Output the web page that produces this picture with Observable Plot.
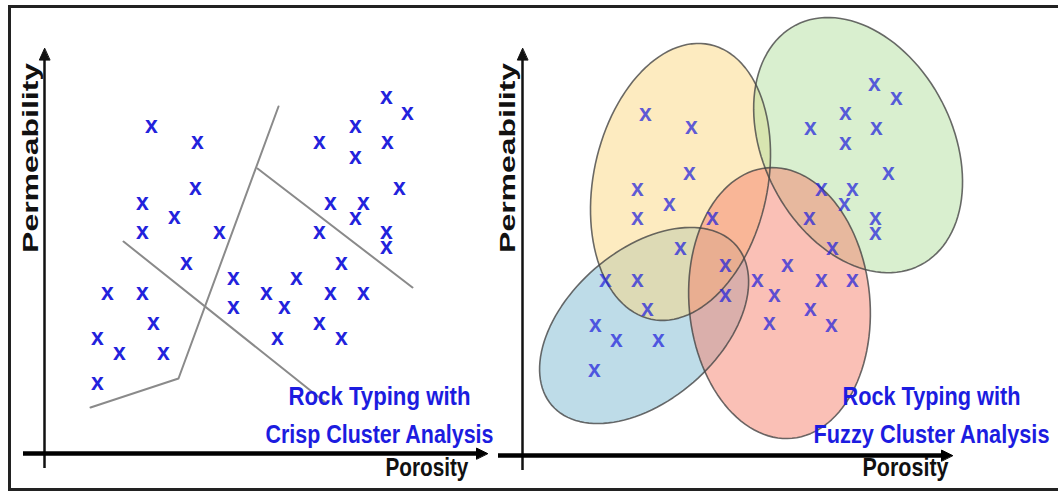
<!DOCTYPE html>
<html>
<head>
<meta charset="utf-8">
<script src="https://cdn.jsdelivr.net/npm/d3@7"></script>
<script src="https://cdn.jsdelivr.net/npm/@observablehq/plot@0.6"></script>
<style>
  html, body { margin: 0; padding: 0; background: #fff; overflow: hidden; }
  #wrap { position: relative; width: 1058px; height: 492px; overflow: hidden; background: #fff; }
  #wrap svg { position: absolute; top: 0; }
  #frame { position: absolute; left: 8px; top: 5px; width: 1060px; height: 486px;
           border: 3px solid #222; box-sizing: border-box; pointer-events: none; }
</style>
</head>
<body>
<div id="wrap"><div id="frame"></div></div>
<script>
// ---------- DATA (porosity / permeability, arbitrary units) ----------
// Left panel: crisp clustering
const crispPorosity = [26.75, 38.25, 68.75, 77.75, 77.75, 85.5, 90.75, 85.75, 37.75, 88.75,
  24.5, 32.5, 24.5, 43.75, 71.5, 79.75, 77.75, 68.75, 85.5, 85.5,
  35.5, 74.25, 47.25, 63, 15.75, 24.5, 55.5, 71.5, 79.75, 60,
  47.25, 27.25, 68.75, 13.25, 58.25, 74.25, 18.75, 29.75, 13.25];
const crispPermeability = [81.75, 77.75, 77.75, 81.75, 74, 89, 85, 77.75, 66.25, 66.25,
  62.5, 59, 55.25, 55.25, 62.5, 62.5, 58.75, 55.25, 55.25, 51.5,
  47.5, 47.5, 43.75, 43.75, 40, 40, 40, 40, 40, 36.5,
  36.5, 32.5, 32.5, 28.75, 28.75, 28.75, 25, 25, 17.5];
// crisp boundaries (three polylines)
const boundaryId = ["A", "A", "A", "B", "B", "C", "C"];
const boundaryPorosity = [11.5, 33.5, 58.5, 19.75, 70.25, 53.25, 92];
const boundaryPermeability = [11.5, 18.75, 86.75, 53, 12.75, 71.25, 41.5];

// Right panel: fuzzy clustering
const fuzzyPorosity = [30.75, 42.25, 41.75, 28.75, 36.75, 28.75, 47.5, 39.5, 50.75, 20.75,
  28.75, 50.75, 31.25, 18.25, 23.5, 34, 18, 88, 93.5, 80.75,
  72, 88.5, 80.75, 91.5, 74.75, 82.5, 80.5, 71.75, 88.25, 88.25,
  77.5, 66.25, 58.75, 74.75, 82.5, 63, 72, 61.75, 77.25];
const fuzzyPermeability = [85.25, 82, 70.5, 66.5, 62.75, 59.25, 59.25, 51.75, 47.5, 43.75,
  43.75, 40, 36.5, 32.5, 28.75, 28.75, 21.25, 92.75, 89.25, 85.5,
  81.75, 81.75, 78, 70.5, 66.5, 66.5, 62.75, 59.25, 59.25, 55.5,
  51.75, 47.5, 43.75, 43.75, 43.75, 40, 36.5, 33, 32.5];
// fuzzy clusters (drawing order: blue, yellow, green, red)
const clusterNames = ["Blue", "Yellow", "Green", "Red"];
const clusterCenterPorosity = [30.4, 39.5, 83.9, 64.25];
const clusterCenterPermeability = [32.5, 68.4, 77.6, 38.1];
const clusterMajor = [30.5, 35.1, 33.8, 33.95];
const clusterMinor = [18.8, 21.75, 23.6, 22.6];
const clusterAngle = [40.9, 77.9, 117.5, 95.3];

// texts
const xLabel = "Porosity";
const yLabel = "Permeability";
const crispTitle = ["Rock Typing with", "Crisp Cluster Analysis"];
const fuzzyTitle = ["Rock Typing with", "Fuzzy Cluster Analysis"];

// ---------- STYLE ----------
const clusterColors = ["#7db9d1", "#fbd781", "#b3df9f", "#f5816d"];
const markBlue = "#2222dc";
const titleBlue = "#1c1ce0";
const font = "'Liberation Sans', Arial, sans-serif";

const crispPts = crispPorosity.map((x, i) => ({x, y: crispPermeability[i]}));
const fuzzyPts = fuzzyPorosity.map((x, i) => ({x, y: fuzzyPermeability[i]}));
const boundary = boundaryId.map((id, i) => ({id, x: boundaryPorosity[i], y: boundaryPermeability[i]}));

const ellipses = clusterNames.map((name, i) => {
  const p = clusterAngle[i] * Math.PI / 180;
  const a = clusterMajor[i], b = clusterMinor[i];
  const cx = clusterCenterPorosity[i], cy = clusterCenterPermeability[i];
  return d3.range(0, 360, 3).map(deg => {
    const t = deg * Math.PI / 180;
    return {name,
      x: cx + a * Math.cos(t) * Math.cos(p) - b * Math.sin(t) * Math.sin(p),
      y: cy + a * Math.cos(t) * Math.sin(p) + b * Math.sin(t) * Math.cos(p)};
  });
});

// axis geometry helpers (in data units)
function axisMarks(xMin, xTip, yMin, yTip) {
  const xHead = [{x: xTip, y: 0}, {x: xTip - 2.75, y: 1.35}, {x: xTip - 2.75, y: -1.35}];
  const yHead = [{x: 0, y: yTip}, {x: -1.3, y: yTip - 2.9}, {x: 1.3, y: yTip - 2.9}];
  return [
    Plot.ruleX([0], {y1: yMin, y2: yTip - 2, stroke: "#111", strokeWidth: 2.5}),
    Plot.ruleY([0], {x1: xMin, x2: xTip - 2, stroke: "#000", strokeWidth: 4.5}),
    Plot.line(xHead, {x: "x", y: "y", fill: "#000", stroke: "#000", strokeWidth: 1, curve: "linear-closed"}),
    Plot.line(yHead, {x: "x", y: "y", fill: "#111", stroke: "#111", strokeWidth: 1, curve: "linear-closed"})
  ];
}

function stretch(svg, lengths) {
  // horizontal-scale labels to match the (vertically stretched) original
  const groups = svg.querySelectorAll('g[aria-label="text"]');
  const labelGroups = Array.from(groups).slice(1);
  let k = 0;
  labelGroups.forEach(g => g.querySelectorAll("text").forEach(el => {
    el.setAttribute("textLength", lengths[k++]);
    el.setAttribute("lengthAdjust", "spacingAndGlyphs");
  }));
}

const markerSize = 23;

// ---------- LEFT PANEL ----------
const left = Plot.plot({
  width: 495, height: 492, margin: 0,
  x: {domain: [-11, 112.75], range: [0, 495], axis: null},
  y: {domain: [-9.75, 113.25], range: [492, 0], axis: null},
  style: {background: "transparent", overflow: "visible"},
  marks: [
    ...axisMarks(-5.25, 110.75, -3.75, 101.25),
    Plot.line(boundary, {x: "x", y: "y", z: "id", stroke: "#8a8a8a", strokeWidth: 2}),
    Plot.text(crispPts, {x: "x", y: "y", text: () => "x", fontSize: markerSize, fontWeight: "bold",
      fontFamily: font, fill: markBlue, dy: -1}),
    Plot.text([crispTitle[0], crispTitle[1], xLabel], {
      x: [83.75, 83.75, 95.6], y: [14.1, 4.75, -3.5], text: d => d,
      fontSize: 26, fontWeight: "bold", fontFamily: font,
      fill: (d, i) => i < 2 ? titleBlue : "#111"}),
    Plot.text([yLabel], {x: [-3.5], y: [73.9], text: d => d, rotate: -90, fontSize: 22,
      fontWeight: "bold", fontFamily: font, fill: "#111"})
  ]
});
left.style.left = "0px";
document.getElementById("wrap").insertBefore(left, document.getElementById("frame"));
stretch(left, [182, 228, 83, 190]);

// ---------- RIGHT PANEL ----------
const right = Plot.plot({
  width: 563, height: 492, margin: 0,
  x: {domain: [-6.75, 134], range: [0, 563], axis: null},
  y: {domain: [-9.25, 113.75], range: [492, 0], axis: null},
  style: {background: "transparent", overflow: "visible"},
  marks: [
    ...axisMarks(-6, 107.5, -3.75, 101.75),
    ...ellipses.map((pts, i) => Plot.line(pts, {x: "x", y: "y", fill: clusterColors[i],
      fillOpacity: 0.5, stroke: "none", curve: "linear-closed"})),
    ...ellipses.map(pts => Plot.line(pts, {x: "x", y: "y", stroke: "#454545", strokeOpacity: 0.8,
      strokeWidth: 1.6, curve: "linear-closed"})),
    Plot.text(fuzzyPts, {x: "x", y: "y", text: () => "x", fontSize: markerSize, fontWeight: "bold",
      fontFamily: font, fill: markBlue, fillOpacity: 0.72, dy: -1}),
    Plot.text([fuzzyTitle[0], fuzzyTitle[1], xLabel], {
      x: [102.25, 102.25, 95.75], y: [14.6, 5.25, -3], text: d => d,
      fontSize: 26, fontWeight: "bold", fontFamily: font,
      fill: (d, i) => i < 2 ? titleBlue : "#111"}),
    Plot.text([yLabel], {x: [-3.6], y: [74.4], text: d => d, rotate: -90, fontSize: 22,
      fontWeight: "bold", fontFamily: font, fill: "#111"})
  ]
});
right.style.left = "495px";
document.getElementById("wrap").insertBefore(right, document.getElementById("frame"));
stretch(right, [178, 236, 86, 190]);
</script>
</body>
</html>
